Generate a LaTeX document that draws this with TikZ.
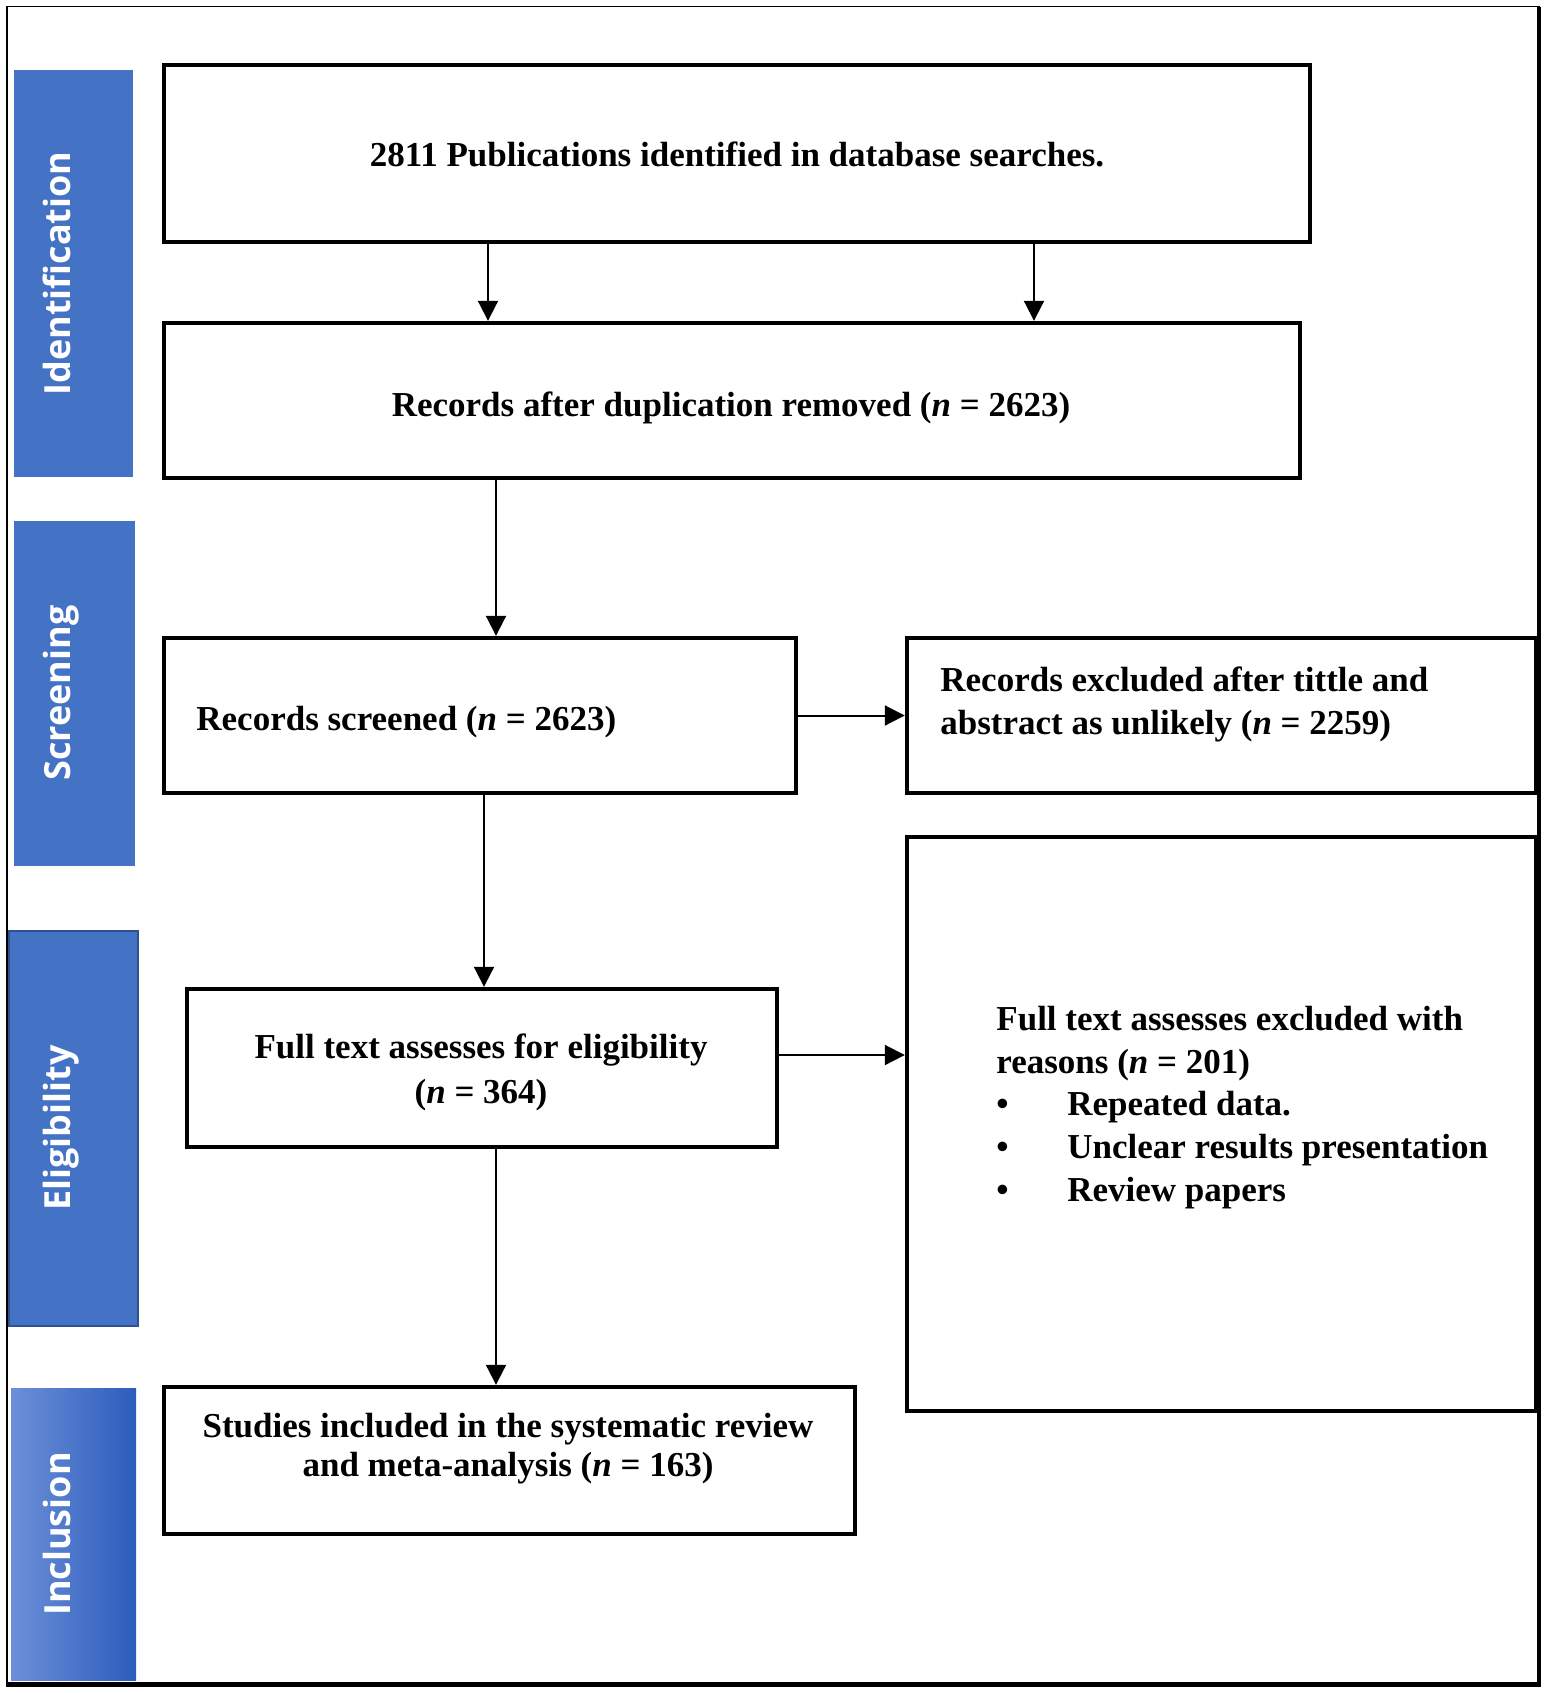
\documentclass[tikz,border=0pt]{standalone}
\usepackage{fontspec}
\setmainfont{Liberation Serif}
\newfontfamily\bandfont{Open Sans}
\usetikzlibrary{arrows.meta}
\definecolor{bandblue}{HTML}{4472C4}
\definecolor{bandedge}{HTML}{2F528F}
\definecolor{incla}{HTML}{6C90D8}
\definecolor{inclb}{HTML}{2C5CBC}
\begin{document}
\begin{tikzpicture}[x=0.5pt,y=-0.5pt,
  box/.style={draw=black, line width=2.2pt, rectangle, inner sep=0pt, fill=white},
  txt/.style={inner sep=0pt, font=\fontsize{17.5}{22}\selectfont\bfseries},
  bandlbl/.style={rotate=90, anchor=base, text=white, inner sep=0pt,
    font=\bandfont\fontsize{18}{20}\selectfont\bfseries},
  arr/.style={line width=1pt, -{Triangle[length=10pt,width=10pt]}}]
\useasboundingbox (0,0) rectangle (1547,1693);
% outer frame
\draw[line width=0.8pt] (7,6.5) rectangle (1539,1684.5);
\draw[line width=2.2pt] (1539,6.5) -- (1539,1684.5) -- (6,1684.5);
% phase bands
\fill[bandblue] (14,70) rectangle (133,477);
\fill[bandblue] (14,521) rectangle (135,866);
\filldraw[fill=bandblue, draw=bandedge, line width=0.8pt] (9,931) rectangle (138,1326);
\shade[left color=incla, right color=inclb] (11,1388) rectangle (136,1680);
\node[bandlbl] (lid) at (70,273.5) {Identification};
\node[bandlbl] (lscr) at (70,693) {Screening};
\node[bandlbl] (lelig) at (70,1128) {Eligibility};
\node[bandlbl] (lincl) at (70,1534) {Inclusion};
% boxes
\node[box, minimum width=573pt, minimum height=88.5pt] (top) at (737,153.5) {};
\node[box, minimum width=568pt, minimum height=77.5pt] (dup) at (732,400.5) {};
\node[box, minimum width=316pt, minimum height=77.5pt] (scr) at (480,715.5) {};
\node[box, minimum width=314.5pt, minimum height=77.5pt] (excl) at (1221.5,715.5) {};
\node[box, minimum width=295pt, minimum height=79pt] (elig) at (482,1068) {};
\node[box, minimum width=314.5pt, minimum height=287pt] (ftex) at (1221.5,1124) {};
\node[box, minimum width=345.5pt, minimum height=73.5pt] (stud) at (509.5,1460.5) {};
% texts
\node[txt, anchor=base] (topT) at (737,166) {2811 Publications identified in database searches.};
\node[txt, anchor=base] (dupT) at (731,416) {Records after duplication removed (\textit{n} = 2623)};
\node[txt, anchor=base west] (scrT) at (196,730) {Records screened (\textit{n} = 2623)};
\node[txt, anchor=north west, align=left, font=\fontsize{17.5}{21.5}\selectfont\bfseries] (exclT) at (940,666)
  {Records excluded after tittle and\\abstract as unlikely (\textit{n} = 2259)};
\node[txt, anchor=north, align=center, font=\fontsize{17.5}{22.5}\selectfont\bfseries] (eligT) at (481,1033)
  {Full text assesses for eligibility\\(\textit{n} = 364)};
\node[txt, anchor=north west, align=left, font=\fontsize{17.5}{21.3}\selectfont\bfseries] (ftexT) at (996,1006)
  {Full text assesses excluded with\\reasons (\textit{n} = 201)\\
   \makebox[35.5pt][l]{\textbullet}Repeated data.\\
   \makebox[35.5pt][l]{\textbullet}Unclear results presentation\\
   \makebox[35.5pt][l]{\textbullet}Review papers};
\node[txt, anchor=north, align=center, font=\fontsize{17.5}{19.5}\selectfont\bfseries] (studT) at (508,1413)
  {Studies included in the systematic review\\and meta-analysis (\textit{n} = 163)};
% connectors
\draw[arr] ([xshift=-124.5pt]top.south) -- ([xshift=-124.5pt]top.south |- dup.north);
\draw[arr] ([xshift=148.5pt]top.south) -- ([xshift=148.5pt]top.south |- dup.north);
\draw[arr] ([xshift=-118pt]dup.south) -- ([xshift=-118pt]dup.south |- scr.north);
\draw[arr] (scr.east) -- (scr.east -| excl.west);
\draw[arr] ([xshift=2pt]scr.south) -- ([xshift=2pt]scr.south |- elig.north);
\draw[arr] ([yshift=6.5pt]elig.east) -- ([yshift=6.5pt]elig.east -| ftex.west);
\draw[arr] ([xshift=7pt]elig.south) -- ([xshift=7pt]elig.south |- stud.north);
\end{tikzpicture}
\end{document}
